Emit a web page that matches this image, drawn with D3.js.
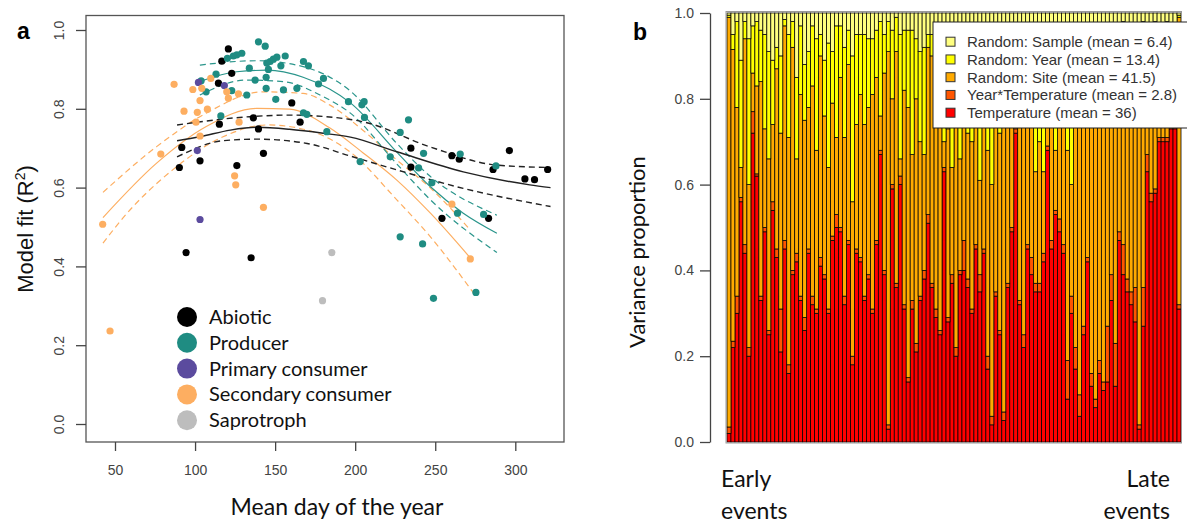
<!DOCTYPE html>
<html>
<head>
<meta charset="utf-8">
<script src="https://cdn.jsdelivr.net/npm/d3@7"></script>
<style>
  body { margin: 0; background: #fff; }
  svg { display: block; }
  .tick text { fill: #444; font-family: "Liberation Sans", Arial, sans-serif; font-size: 14px; }
</style>
</head>
<body>
<svg id="chart" width="1187" height="525"></svg>
<script>
// ---- panel a: points (mean day, R2) ----
var abioticDay = [120.8, 116.7, 122.9, 114.6, 160.4, 165.6, 136.4, 139.6, 115.2, 91.7, 103.1, 90.2, 126.1, 142.7, 234.8, 234.8, 260.4, 265, 296.3, 286.1, 320.2, 306, 312, 254.2, 283.3, 94.4, 135];
var abioticR2  = [0.952, 0.921, 0.890, 0.865, 0.815, 0.766, 0.777, 0.749, 0.761, 0.702, 0.668, 0.651, 0.656, 0.687, 0.700, 0.652, 0.681, 0.672, 0.694, 0.646, 0.646, 0.622, 0.620, 0.522, 0.522, 0.435, 0.422];
var producerDay = [139.6, 143.8, 129.2, 126.1, 123.9, 120.2, 146.9, 148.9, 151.1, 156.3, 144.8, 145.8, 153.6, 167.7, 170.8, 180.2, 177.1, 195.8, 133.9, 137.5, 144.4, 113.1, 103.8, 106.9, 122.9, 132.3, 144.4, 155.2, 163.6, 150.4, 167.7, 169.8, 116.1, 182.3, 204.2, 205.6, 205.8, 233.3, 228.1, 203.1, 242.7, 221.9, 239.6, 247.9, 265.6, 263.9, 280.2, 287.9, 228.1, 242.1, 275.4, 248.9];
var producerR2  = [0.970, 0.959, 0.941, 0.937, 0.934, 0.928, 0.920, 0.926, 0.931, 0.934, 0.916, 0.900, 0.909, 0.920, 0.909, 0.877, 0.863, 0.818, 0.903, 0.873, 0.880, 0.888, 0.871, 0.843, 0.846, 0.835, 0.852, 0.848, 0.852, 0.824, 0.790, 0.786, 0.782, 0.742, 0.810, 0.818, 0.778, 0.772, 0.740, 0.666, 0.687, 0.678, 0.650, 0.612, 0.685, 0.535, 0.532, 0.655, 0.475, 0.457, 0.334, 0.319];
var primaryDay = [102.1, 118.3, 101.4, 103.1];
var primaryR2  = [0.867, 0.859, 0.694, 0.519];
var secondaryDay = [86.9, 98.6, 104.2, 109.8, 119.8, 120.8, 127.1, 103.1, 93.1, 101.4, 107.7, 100.6, 127.5, 103.1, 78.6, 124.7, 125.4, 142.7, 260.4, 271.9, 42.3, 46.9];
var secondaryR2  = [0.862, 0.849, 0.852, 0.877, 0.843, 0.827, 0.838, 0.821, 0.794, 0.791, 0.799, 0.766, 0.766, 0.731, 0.685, 0.630, 0.607, 0.550, 0.558, 0.419, 0.507, 0.236];
var saprotrophDay = [185.4, 179.6];
var saprotrophR2  = [0.435, 0.313];

// ---- panel a: fitted curves ----
var abioticFitDay = [88.75, 103, 122, 138.5, 159, 180, 197, 226, 267.5, 309, 322];
var abioticFit    = [0.719, 0.729, 0.746, 0.753, 0.748, 0.738, 0.728, 0.691, 0.640, 0.607, 0.600];
var abioticUpDay  = [88.75, 134, 159, 197, 205, 247, 288.5, 322];
var abioticUp     = [0.759, 0.780, 0.784, 0.773, 0.767, 0.703, 0.657, 0.651];
var abioticLoDay  = [88.75, 117.5, 138.5, 170, 197, 226, 267.5, 322];
var abioticLo     = [0.678, 0.719, 0.723, 0.712, 0.680, 0.645, 0.598, 0.552];
var producerFitDay = [103, 126, 145, 167.5, 184, 197, 226, 247, 267.5, 288.5];
var producerFit    = [0.869, 0.894, 0.898, 0.880, 0.850, 0.815, 0.690, 0.602, 0.535, 0.484];
var producerUpDay  = [103, 138.5, 167.5, 197, 226, 247, 288.5];
var producerUp     = [0.911, 0.922, 0.907, 0.845, 0.712, 0.628, 0.530];
var producerLoDay  = [103, 132, 155, 180, 197, 226, 247, 288.5];
var producerLo     = [0.835, 0.873, 0.869, 0.831, 0.789, 0.660, 0.569, 0.435];
var secondaryFitDay = [42.5, 76, 107, 138.5, 159, 184, 205, 226, 247, 272];
var secondaryFit    = [0.524, 0.662, 0.755, 0.801, 0.799, 0.752, 0.688, 0.619, 0.535, 0.421];
var secondaryUpDay  = [42.5, 76, 107, 142.7, 167.5, 184, 205, 226, 247, 272];
var secondaryUp     = [0.588, 0.704, 0.789, 0.843, 0.839, 0.810, 0.745, 0.670, 0.599, 0.492];
var secondaryLoDay  = [42.5, 55, 86, 117.5, 145, 170, 197, 226, 247, 274];
var secondaryLo     = [0.459, 0.523, 0.645, 0.729, 0.759, 0.746, 0.690, 0.569, 0.475, 0.332];

var groupNames  = ["Abiotic", "Producer", "Primary consumer", "Secondary consumer", "Saprotroph"];
var groupColors = ["#000000", "#1f8c82", "#5b4b9e", "#fdae61", "#bdbdbd"];
var xTicksA = [50, 100, 150, 200, 250, 300];
var yTicks  = [0, 0.2, 0.4, 0.6, 0.8, 1.0];

// ---- panel b: variance components (%) per event, early to late ----
var temperature = [2, 22, 30, 56, 44, 20, 72, 62, 33, 49, 25, 54, 43, 21, 45, 16, 39, 42, 33, 26, 44, 32, 30, 41, 38, 30, 47, 50, 49, 32, 46, 18, 44, 42, 33, 38, 30, 46,
  67, 39, 3, 59, 36, 60, 31, 14, 31, 21, 33, 38, 51, 36, 29, 25, 63, 28, 37, 20, 39, 40, 36, 30, 45, 35, 44, 17, 4, 34, 25, 5, 36, 49, 72, 32, 22, 45,
  39, 35, 35, 42, 68, 45, 53, 49, 44, 10, 30, 17, 6, 25, 42, 13, 8, 16, 12, 14, 33, 13, 47, 39, 35, 32, 28, 3, 27, 63, 56, 58, 70, 70, 70, 73, 73, 31];
var yearTemp = [1.5, 1.5, 4, 1, 2, 2, 5, 0.5, 1, 1, 1, 2, 2, 10, 2, 2, 1, 2, 1, 3, 1, 2, 1, 2, 1, 1, 1, 3, 1, 2, 1, 2, 1, 1, 1, 1, 1, 1,
  1, 1, 1, 1, 1, 2, 1, 1, 2, 2, 1, 2, 2, 1, 2, 1, 1, 1, 2, 2, 1, 7, 2, 1, 1, 4, 1, 3, 2, 1, 1, 2, 1, 1, 1, 1, 3, 1,
  4, 2, 2, 2, 1, 2, 1, 3, 2, 9, 4, 5, 5, 2, 1, 3, 2, 3, 2, 13, 6, 10, 2, 7, 3, 3, 8, 1, 9, 4, 2, 1, 1, 1, 1, 1, 1, 1];
var site = [95.5, 68, 44, 7, 48, 38, 9, 20.5, 50, 23, 40, 18, 42, 41, 50, 53, 52, 22, 47, 46, 33, 49, 37, 47, 37, 33, 31, 18, 35, 37, 41, 36, 29, 38, 40, 39, 50, 38,
  8, 46, 87, 20, 54, 4, 50, 63, 34, 57, 36, 27, 39, 53, 44, 48, 6, 44, 25, 52, 26, 28, 34, 39, 28, 22, 29, 48, 54, 39, 46, 73, 43, 32, 12, 49, 55, 39,
  42, 26, 33, 19, 15, 35, 14, 34, 42, 49, 26, 63, 75, 57, 45, 70, 74, 64, 73, 61, 47, 62, 35, 41, 48, 53, 48, 79, 51, 13, 27, 27, 17, 13, 16, 16, 12, 67];
var year = [0.5, 3.5, 20, 25, 4, 34, 11, 15, 12, 22, 25, 15, 5, 18, 1.5, 24, 6, 19, 16, 13, 13, 14, 26, 5, 13, 29, 12, 26, 12, 21, 8, 34, 21, 14, 21, 16, 13, 11,
  22, 9, 7, 16, 8, 29, 14, 18, 29, 14, 21, 25, 3, 5, 18, 18, 24, 20, 26, 19, 25, 17, 21, 24, 18, 31, 19, 24, 30, 18, 22, 14, 13, 13, 9, 13, 13, 9,
  10, 29, 24, 27, 11, 12, 25, 9, 6, 24, 32, 10, 10, 11, 8, 8, 11, 13, 10, 7, 10, 10, 12, 11, 11, 8, 13, 14, 11, 16, 12, 12, 9, 12, 11, 7, 10, 0.5];
var sample = [0.5, 5, 2, 11, 2, 6, 3, 2, 4, 5, 9, 11, 8, 10, 1.5, 5, 2, 15, 3, 12, 9, 3, 6, 5, 11, 7, 9, 3, 3, 8, 4, 10, 5, 5, 5, 6, 6, 4,
  2, 5, 2, 4, 1, 5, 4, 4, 4, 6, 9, 8, 5, 5, 7, 8, 6, 7, 10, 7, 9, 8, 7, 6, 8, 8, 7, 8, 10, 8, 6, 6, 7, 5, 6, 5, 7, 6,
  5, 8, 6, 10, 5, 6, 7, 5, 6, 8, 8, 5, 4, 5, 4, 6, 5, 4, 3, 5, 4, 5, 4, 2, 3, 4, 3, 3, 2, 4, 3, 2, 3, 4, 2, 3, 4, 0.5];
var componentKeys   = ["temperature", "yearTemp", "site", "year", "sample"];
var componentColors = ["#ff0000", "#ff5500", "#ffaa00", "#ffff00", "#ffff80"];
var legendLabels = ["Random: Sample (mean = 6.4)", "Random: Year (mean = 13.4)", "Random: Site (mean = 41.5)", "Year*Temperature (mean = 2.8)", "Temperature (mean = 36)"];
var legendColors = ["#ffff80", "#ffff00", "#ffaa00", "#ff5500", "#ff0000"];

var svg = d3.select("#chart");
var sans = "Lato, 'Open Sans', sans-serif";
var arial = "'Liberation Sans', Arial, sans-serif";

// ================= panel a =================
var xa = d3.scaleLinear().domain([50, 300]).range([115, 515.3]);
var ya = d3.scaleLinear().domain([0, 1]).range([424, 30]);

svg.append("rect").attr("x", 86).attr("y", 15.5).attr("width", 478).attr("height", 426.5)
  .attr("fill", "none").attr("stroke", "#555").attr("stroke-width", 1.3);

var axA = svg.append("g").attr("transform", "translate(0,442)")
  .call(d3.axisBottom(xa).tickValues(xTicksA).tickSize(9).tickPadding(14).tickFormat(d3.format("d")));
axA.select(".domain").remove();
axA.selectAll("line").attr("stroke", "#444").attr("stroke-width", 1.3);

var ayA = svg.append("g").attr("transform", "translate(86,0)")
  .call(d3.axisLeft(ya).tickValues(yTicks).tickSize(10).tickFormat(d3.format(".1f")));
ayA.select(".domain").remove();
ayA.selectAll("line").attr("stroke", "#444").attr("stroke-width", 1.3);
ayA.selectAll("text").attr("transform", "rotate(-90)").attr("x", 0).attr("y", -22)
  .attr("dy", 0).attr("text-anchor", "middle");

// curves
var curve = d3.line().x(function(d) { return xa(d[0]); }).y(function(d) { return ya(d[1]); })
  .curve(d3.curveMonotoneX);
var fits = [
  { day: secondaryFitDay, v: secondaryFit, color: "#fdae61", dash: null, w: 1.2 },
  { day: secondaryUpDay, v: secondaryUp, color: "#fdae61", dash: "6,4", w: 1.2 },
  { day: secondaryLoDay, v: secondaryLo, color: "#fdae61", dash: "6,4", w: 1.2 },
  { day: producerFitDay, v: producerFit, color: "#2a958b", dash: null, w: 1.2 },
  { day: producerUpDay, v: producerUp, color: "#2a958b", dash: "6,4", w: 1.2 },
  { day: producerLoDay, v: producerLo, color: "#2a958b", dash: "6,4", w: 1.2 },
  { day: abioticFitDay, v: abioticFit, color: "#222", dash: null, w: 1.4 },
  { day: abioticUpDay, v: abioticUp, color: "#222", dash: "6,4", w: 1.4 },
  { day: abioticLoDay, v: abioticLo, color: "#222", dash: "6,4", w: 1.4 }
];
fits.forEach(function(f) {
  svg.append("path").datum(d3.zip(f.day, f.v)).attr("d", curve)
    .attr("fill", "none").attr("stroke", f.color).attr("stroke-width", f.w)
    .attr("stroke-dasharray", f.dash);
});

// points
var groups = [
  [abioticDay, abioticR2], [producerDay, producerR2], [primaryDay, primaryR2],
  [secondaryDay, secondaryR2], [saprotrophDay, saprotrophR2]
];
groups.forEach(function(g, i) {
  svg.append("g").selectAll("circle").data(d3.zip(g[0], g[1])).enter().append("circle")
    .attr("cx", function(d) { return xa(d[0]); })
    .attr("cy", function(d) { return ya(d[1]); })
    .attr("r", 3.6).attr("fill", groupColors[i]);
});

// legend a
var lg = svg.append("g").selectAll("g").data(groupNames).enter().append("g")
  .attr("transform", function(d, i) { return "translate(187," + (317 + i * 25.8) + ")"; });
lg.append("circle").attr("r", 10).attr("fill", function(d, i) { return groupColors[i]; });
lg.append("text").attr("x", 22).attr("y", 7).text(function(d) { return d; })
  .attr("font-family", sans).attr("font-size", 20).attr("fill", "#111");

svg.append("text").attr("x", 337).attr("y", 515).attr("text-anchor", "middle")
  .attr("font-family", sans).attr("font-size", 23).attr("fill", "#111").text("Mean day of the year");
var yt = svg.append("text").attr("transform", "translate(33,229) rotate(-90)").attr("text-anchor", "middle")
  .attr("font-family", arial).attr("font-size", 22).attr("fill", "#111");
yt.append("tspan").text("Model fit (R");
yt.append("tspan").attr("baseline-shift", "super").attr("font-size", 14).text("2");
yt.append("tspan").text(")");
svg.append("text").attr("x", 17).attr("y", 39).attr("font-family", arial).attr("font-weight", "bold")
  .attr("font-size", 23).text("a");

// ================= panel b =================
var rows = temperature.map(function(t, i) {
  return { id: i, temperature: t, yearTemp: yearTemp[i], site: site[i], year: year[i], sample: sample[i] };
});
var stack = d3.stack().keys(componentKeys).offset(d3.stackOffsetExpand)(rows);
var xb = d3.scaleBand().domain(d3.range(rows.length)).range([727, 1181]).padding(0);
var yb = d3.scaleLinear().domain([0, 1]).range([442, 13]);

svg.append("g").selectAll("g").data(stack).enter().append("g")
  .attr("fill", function(d, i) { return componentColors[i]; })
  .selectAll("rect").data(function(d) { return d; }).enter().append("rect")
  .attr("x", function(d) { return xb(d.data.id); })
  .attr("width", xb.bandwidth())
  .attr("y", function(d) { return yb(d[1]); })
  .attr("height", function(d) { return yb(d[0]) - yb(d[1]); })
  .attr("stroke", "#000").attr("stroke-width", 0.75);

svg.append("rect").attr("x", 726).attr("y", 11.5).attr("width", 455.5).attr("height", 431.5)
  .attr("fill", "none").attr("stroke", "#999").attr("stroke-width", 1);

var ayB = svg.append("g").attr("transform", "translate(710,0)")
  .call(d3.axisLeft(yb).tickValues(yTicks).tickSize(10).tickSizeOuter(0).tickPadding(6).tickFormat(d3.format(".1f")));
ayB.select(".domain").attr("stroke", "#444").attr("stroke-width", 1.3);
ayB.selectAll("line").attr("stroke", "#444").attr("stroke-width", 1.3);

// legend b
var lb = svg.append("g");
lb.append("rect").attr("x", 933).attr("y", 22).attr("width", 262).attr("height", 106)
  .attr("fill", "#fff").attr("stroke", "#222").attr("stroke-width", 1);
var li = lb.selectAll("g").data(legendLabels).enter().append("g")
  .attr("transform", function(d, i) { return "translate(946," + (41.7 + i * 17.75) + ")"; });
li.append("rect").attr("x", 0).attr("y", -4.5).attr("width", 9).attr("height", 9)
  .attr("fill", function(d, i) { return legendColors[i]; }).attr("stroke", "#333");
li.append("text").attr("x", 21).attr("y", 5.5).text(function(d) { return d; })
  .attr("font-family", arial).attr("font-size", 15).attr("fill", "#333");

svg.append("text").attr("transform", "translate(645,252) rotate(-90)").attr("text-anchor", "middle")
  .attr("font-family", sans).attr("font-size", 22).attr("fill", "#111").text("Variance proportion");
svg.append("text").attr("x", 633).attr("y", 40).attr("font-family", arial).attr("font-weight", "bold")
  .attr("font-size", 23).text("b");

[["Early", "events", 721, "start"], ["Late", "events", 1170, "end"]].forEach(function(t) {
  var tx = svg.append("text").attr("text-anchor", t[3]).attr("font-family", sans)
    .attr("font-size", 23).attr("fill", "#111");
  tx.append("tspan").attr("x", t[2]).attr("y", 487).text(t[0]);
  tx.append("tspan").attr("x", t[2]).attr("y", 519).text(t[1]);
});
</script>
</body>
</html>
